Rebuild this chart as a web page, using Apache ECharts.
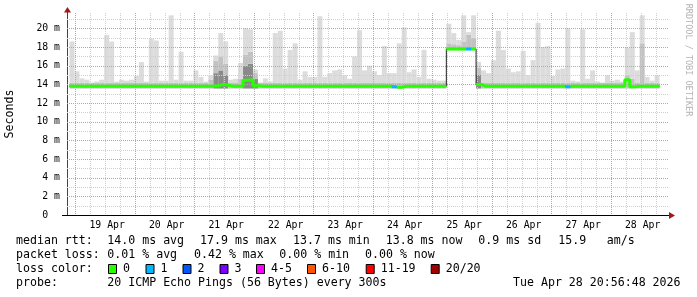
<!DOCTYPE html>
<html><head><meta charset="utf-8">
<script src="https://cdn.jsdelivr.net/npm/echarts@6/dist/echarts.min.js"></script>
<style>html,body{margin:0;padding:0;background:#fff}#c{width:697px;height:297px}</style>
</head><body><div id="c"></div>
<script>
// ---- data ----
const startTime = [2026, 3, 18, 21, 36];   // 18 Apr 21:36 (graph start)
const firstMidnight = [2026, 3, 19];       // 19 Apr 00:00
const spanHours = 240;
const bucketHours = 2;
const minorGridHours = 6;
const majorGridHours = 24;
const monthNames = ['Jan','Feb','Mar','Apr','May','Jun','Jul','Aug','Sep','Oct','Nov','Dec'];
const yMax = 21.65;
const yMajorStep = 2;
const yMinorStep = 1;
const yGridTop = 21;

// top of the smoke (max ping) per 2h bucket, ms
const smokeMax = [18.6,15.4,14.65,14.5,14.2,14.3,14.5,19.3,18.6,14.3,
  14.5,14.4,14.5,14.9,16.4,14.3,18.9,18.7,14.4,14.4,
  21.4,14.5,17.5,14.4,14.4,15.5,14.8,14.3,15.0,17.1,
  19.5,18.6,14.5,14.6,16.3,20.0,19.9,15.6,14.2,14.65,
  14.3,19.5,19.75,15.7,17.7,18.4,14.5,15.4,14.8,14.8,
  21.3,14.8,15.2,15.5,15.6,15.0,14.6,17.0,19.8,15.5,
  16.0,15.4,15.0,18.1,15.2,15.2,18.4,20.1,15.3,15.6,
  14.8,17.7,14.6,14.5,14.4,14.4,20.5,19.5,18.75,21.4,
  19.6,21.4,16.4,15.5,15.2,16.6,19.75,17.7,15.7,15.3,
  15.4,17.6,15.0,16.6,20.6,18.0,18.1,14.9,15.6,15.7,
  20.0,14.4,14.3,19.9,14.6,15.5,14.3,14.2,15.0,14.4,
  14.5,14.3,17.9,19.6,15.5,21.4,14.8,14.4,15.0,null];
// top of the medium-grey smoke band
const smokeMid = [14.15,14.15,14.15,14.15,14.15,14.15,14.15,14.15,14.15,14.15,
  14.15,14.15,14.15,14.15,14.15,14.15,14.15,14.15,14.15,14.15,
  14.15,14.15,14.15,14.15,14.15,14.15,14.15,14.15,14.5,16.5,
  17.0,16.2,14.15,14.15,14.6,17.2,17.5,15.2,14.15,14.15,
  14.15,14.15,14.15,14.15,14.15,14.15,14.15,14.15,14.15,14.15,
  14.15,14.15,14.15,14.15,14.15,14.15,14.15,14.15,14.15,14.15,
  14.15,14.15,14.15,14.15,14.15,14.15,14.15,14.15,14.15,14.15,
  14.15,14.15,14.15,14.15,14.15,14.15,18.4,18.3,18.2,18.6,
  19.3,19.0,15.8,14.15,14.15,14.15,14.15,14.15,14.15,14.15,
  14.15,14.15,14.15,14.15,14.15,14.15,14.15,14.15,14.15,14.15,
  14.15,14.15,14.15,14.15,14.15,14.15,14.15,14.15,14.15,14.15,
  14.15,14.15,15.0,14.6,14.15,18.4,14.15,14.15,14.15,null];
// top of the dark smoke core
const smokeDark = [13.55,13.55,13.55,13.55,13.55,13.55,13.55,13.55,13.55,13.55,
  13.55,13.55,13.55,13.55,13.55,13.55,13.55,13.55,13.55,13.55,
  13.55,13.55,13.55,13.55,13.55,13.55,13.55,13.55,13.55,15.2,
  15.5,15.0,13.55,13.55,13.55,16.0,16.2,14.6,13.55,13.55,
  13.55,13.55,13.55,13.55,13.55,13.55,13.55,13.55,13.55,13.55,
  13.55,13.55,13.55,13.55,13.55,13.55,13.55,13.55,13.55,13.55,
  13.55,13.55,13.55,13.55,13.55,13.55,13.55,13.55,13.55,13.55,
  13.55,13.55,13.55,13.55,13.55,13.55,17.65,17.65,17.65,17.65,
  17.65,17.65,15.0,13.55,13.55,13.55,13.55,13.55,13.55,13.55,
  13.55,13.55,13.55,13.55,13.55,13.55,13.55,13.55,13.55,13.55,
  13.55,13.55,13.55,13.55,13.55,13.55,13.55,13.55,13.55,13.55,
  13.55,13.55,13.55,13.55,13.55,13.55,13.55,13.55,13.55,null];
// bottom of the smoke (min ping)
const smokeLo = [13.55,13.55,13.55,13.55,13.55,13.55,13.55,13.55,13.55,13.55,
  13.55,13.55,13.55,13.55,13.55,13.55,13.55,13.55,13.55,13.55,
  13.55,13.55,13.55,13.55,13.55,13.55,13.55,13.55,13.55,13.55,
  13.55,13.55,13.55,13.55,13.55,13.55,13.55,13.55,13.55,13.55,
  13.55,13.55,13.55,13.55,13.55,13.55,13.55,13.55,13.55,13.55,
  13.55,13.55,13.55,13.55,13.55,13.55,13.55,13.55,13.55,13.55,
  13.55,13.55,13.55,13.55,13.55,13.55,13.55,13.55,13.55,13.55,
  13.55,13.55,13.55,13.55,13.55,13.55,17.65,17.65,17.65,17.65,
  17.65,17.65,13.55,13.55,13.55,13.55,13.55,13.55,13.55,13.55,
  13.55,13.55,13.55,13.55,13.55,13.55,13.55,13.55,13.55,13.55,
  13.55,13.55,13.55,13.55,13.55,13.55,13.55,13.55,13.55,13.55,
  13.55,13.55,13.55,13.55,13.55,13.55,13.55,13.55,13.55,null];
// median rtt per bucket, ms
const median = [13.8,13.8,13.8,13.8,13.8,13.8,13.8,13.8,13.8,13.8,
  13.8,13.8,13.8,13.8,13.8,13.8,13.8,13.8,13.8,13.8,
  13.8,13.8,13.8,13.8,13.8,13.8,13.8,13.8,13.8,13.85,
  14.0,13.9,13.8,13.8,13.8,14.45,14.5,13.85,13.8,13.8,
  13.8,13.8,13.8,13.8,13.8,13.8,13.8,13.8,13.8,13.8,
  13.8,13.8,13.8,13.8,13.8,13.8,13.8,13.8,13.8,13.8,
  13.8,13.8,13.8,13.8,13.8,13.75,13.7,13.8,13.8,13.8,
  13.8,13.8,13.8,13.8,13.8,13.8,17.8,17.8,17.8,17.8,
  17.8,17.8,14.0,13.8,13.8,13.8,13.8,13.8,13.8,13.8,
  13.8,13.8,13.8,13.8,13.8,13.8,13.8,13.8,13.8,13.8,
  13.75,13.8,13.8,13.8,13.8,13.8,13.8,13.8,13.8,13.8,
  13.8,13.8,14.5,13.75,13.8,13.8,13.8,13.8,13.8,null];
// lost pings (of 20) per bucket
const loss = [0,0,0,0,0,0,0,0,0,0, 0,0,0,0,0,0,0,0,0,0,
  0,0,0,0,0,0,0,0,0,0, 0,0,0,0,0,0,0,0,0,0,
  0,0,0,0,0,0,0,0,0,0, 0,0,0,0,0,0,0,0,0,0,
  0,0,0,0,0,1,0,0,0,0, 0,0,0,0,0,0,0,0,0,0,
  1,0,0,0,0,0,0,0,0,0, 0,0,0,0,0,0,0,0,0,0,
  1,0,0,0,0,0,0,0,0,0, 0,0,0,0,0,0,0,0,0,0];

const lossLabels = ['0','1','2','3','4-5','6-10','11-19','20/20'];
const lossColors = ['#26ff00','#00b8ff','#0059ff','#7e00ff','#ff00ff','#ff5500','#ff0000','#a00000'];

const legendRows = [
  [['median rtt:',16],['14.0 ms avg',107.3],['17.9 ms max',200],['13.7 ms min',293],['13.8 ms now',385.7],['0.9 ms sd',478.3],['15.9',558.3],['am/s',606.7]],
  [['packet loss:',16],['0.01 % avg',107.3],['0.42 % max',194],['0.00 % min',279.3],['0.00 % now',365]],
  [['loss color:',16]],
  [['probe:',16],['20 ICMP Echo Pings (56 Bytes) every 300s',107.3],['Tue Apr 28 20:56:48 2026',513]]
];
const legendY = [241, 255, 269, 283];
const lossBoxX = [108, 145.5, 182.5, 219.5, 256, 307, 365.7, 430.7];

// ---- build ----
const H = 3600e3;
const t0 = new Date(startTime[0], startTime[1], startTime[2], startTime[3], startTime[4]).getTime();
const tEnd = t0 + spanHours * H;
const tAt = h => t0 + h * H;
const centers = smokeMax.map((_, i) => tAt((i + 0.5) * bucketHours));

function diff(top, bottom) {
  return top.map((v, i) => (v == null || bottom[i] == null) ? [centers[i], null] : [centers[i], +(v - bottom[i]).toFixed(3)]);
}
function lineData(pred, breakJumps) {
  const out = [];
  for (let i = 0; i < median.length; i++) {
    const v = median[i];
    if (v == null || !pred(i)) { out.push([tAt(i * bucketHours), null]); continue; }
    const p = median[i - 1];
    if (breakJumps && i > 0 && p != null && Math.abs(v - p) > 1) out.push([tAt(i * bucketHours), null]);
    out.push([tAt(i * bucketHours), v], [tAt((i + 1) * bucketHours), v]);
  }
  return out;
}

// grid positions
const tMid0 = new Date(firstMidnight[0], firstMidnight[1], firstMidnight[2]).getTime();
const vMinor = [], vMajor = [], hMinor = [], hMajor = [];
for (let k = 0; tMid0 + k * minorGridHours * H < tEnd; k++) {
  const t = tMid0 + k * minorGridHours * H;
  ((k * minorGridHours) % majorGridHours === 0 ? vMajor : vMinor).push(t);
}
for (let v = yMinorStep; v <= yGridTop; v += yMinorStep) {
  (v % yMajorStep === 0 ? hMajor : hMinor).push(v);
}
function gridSeries(name, values, color, vertical) {
  return {
    type: 'custom', name, silent: true, z: 3, clip: false, animation: false,
    data: values.map(v => vertical ? [v, 0] : [t0, v]),
    renderItem: (params, api) => {
      const cs = params.coordSys;
      const style = { stroke: color, lineWidth: 1, lineDash: [1, 1], fill: null };
      if (vertical) {
        const x = Math.round(api.coord([api.value(0), 0])[0]) + 0.5;
        return { type: 'line', shape: { x1: x, y1: cs.y, x2: x, y2: cs.y + cs.height }, style };
      }
      const y = Math.round(api.coord([t0, api.value(1)])[1]) + 0.5;
      return { type: 'line', shape: { x1: cs.x, y1: y, x2: cs.x + cs.width + 1, y2: y }, style };
    }
  };
}

const FONT = 'DejaVu Sans Mono';
const smokeBar = (name, data, color) => ({
  type: 'bar', name, stack: 'smoke', barWidth: 5, z: 2,
  data, itemStyle: { color }, silent: true, emphasis: { disabled: true }
});
const medLine = (name, data, color, width) => ({
  type: 'line', name, data, showSymbol: false, symbol: 'none', z: 4,
  connectNulls: false, lineStyle: { color, width }, silent: true, emphasis: { disabled: true }
});

const graphics = [];
legendRows.forEach((row, r) => row.forEach(([txt, x]) => graphics.push({
  type: 'text', x, y: legendY[r], style: { text: txt, font: '11.6px "' + FONT + '"', fill: '#000', verticalAlign: 'middle' }
})));
lossLabels.forEach((lab, k) => {
  graphics.push({ type: 'rect', shape: { x: lossBoxX[k] + 0.5, y: 264.5, width: 8, height: 9 },
    style: { fill: lossColors[k], stroke: '#000', lineWidth: 1 } });
  graphics.push({ type: 'text', x: lossBoxX[k] + 15, y: 269,
    style: { text: lab, font: '11.6px "' + FONT + '"', fill: '#000', verticalAlign: 'middle' } });
});
graphics.push({ type: 'text', x: 10, y: 114, rotation: Math.PI / 2,
  style: { text: 'Seconds', font: '11.6px "' + FONT + '"', fill: '#000', align: 'center', verticalAlign: 'middle' } });
graphics.push({ type: 'text', x: 688, y: 60, rotation: -Math.PI / 2,
  style: { text: 'RRDTOOL / TOBI OETIKER', font: '8.5px "' + FONT + '"', fill: '#b4b4b4', align: 'center', verticalAlign: 'middle' } });
// axis arrows and axis-line extensions
graphics.push({ type: 'line', shape: { x1: 67.5, y1: 13, x2: 67.5, y2: 10 }, style: { stroke: '#444', lineWidth: 1 } });
graphics.push({ type: 'polygon', shape: { points: [[64, 12.5], [71, 12.5], [67.5, 7]] }, style: { fill: '#a01818' } });
graphics.push({ type: 'line', shape: { x1: 62, y1: 215.5, x2: 67, y2: 215.5 }, style: { stroke: '#000', lineWidth: 1 } });
graphics.push({ type: 'line', shape: { x1: 667, y1: 215.5, x2: 669, y2: 215.5 }, style: { stroke: '#000', lineWidth: 1 } });
graphics.push({ type: 'polygon', shape: { points: [[669, 212], [669, 219], [675, 215.5]] }, style: { fill: '#a01818' } });

const option = {
  animation: false,
  backgroundColor: '#fff',
  textStyle: { fontFamily: FONT },
  grid: { left: 67, right: 30, top: 13, bottom: 82, containLabel: false },
  xAxis: {
    type: 'time', min: t0, max: tEnd, minInterval: majorGridHours * H, maxInterval: majorGridHours * H,
    axisLine: { show: true, lineStyle: { color: '#000', width: 1 } },
    axisTick: { show: false },
    splitLine: { show: false }, minorSplitLine: { show: false },
    axisLabel: { show: true, color: '#000', fontFamily: FONT, fontSize: 9.8, margin: 5, align: 'left',
      padding: [0, 0, 0, 14], hideOverlap: false,
      formatter: v => { const d = new Date(v); return (d.getHours() === 0 && d.getMinutes() === 0) ? (d.getDate() + ' ' + monthNames[d.getMonth()]) : ''; } }
  },
  yAxis: {
    type: 'value', min: 0, max: yMax, interval: yMajorStep,
    axisLine: { show: true, lineStyle: { color: '#444', width: 1 } },
    axisTick: { show: false },
    splitLine: { show: false },
    axisLabel: { show: true, color: '#000', fontFamily: FONT, fontSize: 9.8, margin: 7, showMaxLabel: false,
      formatter: v => v === 0 ? '0  ' : (Math.abs(v % yMajorStep) < 1e-6 ? v + ' m' : '') }
  },
  series: [
    smokeBar('lo', diff(smokeLo, smokeLo.map(() => 0)), 'rgba(0,0,0,0)'),
    smokeBar('dark', diff(smokeDark, smokeLo), '#8a8a8a'),
    smokeBar('mid', diff(smokeMid, smokeDark), '#c2c2c2'),
    smokeBar('light', diff(smokeMax, smokeMid), '#dcdcdc'),
    gridSeries('gridVMinor', vMinor, '#cfcfcf', true),
    gridSeries('gridHMinor', hMinor, '#cfcfcf', false),
    gridSeries('gridVMajor', vMajor, '#e39494', true),
    gridSeries('gridHMajor', hMajor, '#e39494', false),
    medLine('median', lineData(() => true, false), '#202020', 1),
    medLine('loss0', lineData(i => loss[i] === 0, true), lossColors[0], 3),
    medLine('loss1', lineData(i => loss[i] === 1, true), lossColors[1], 3)
  ],
  graphic: graphics
};

const chart = echarts.init(document.getElementById('c'), null, { renderer: 'canvas' });
chart.setOption(option);
</script>
</body></html>
